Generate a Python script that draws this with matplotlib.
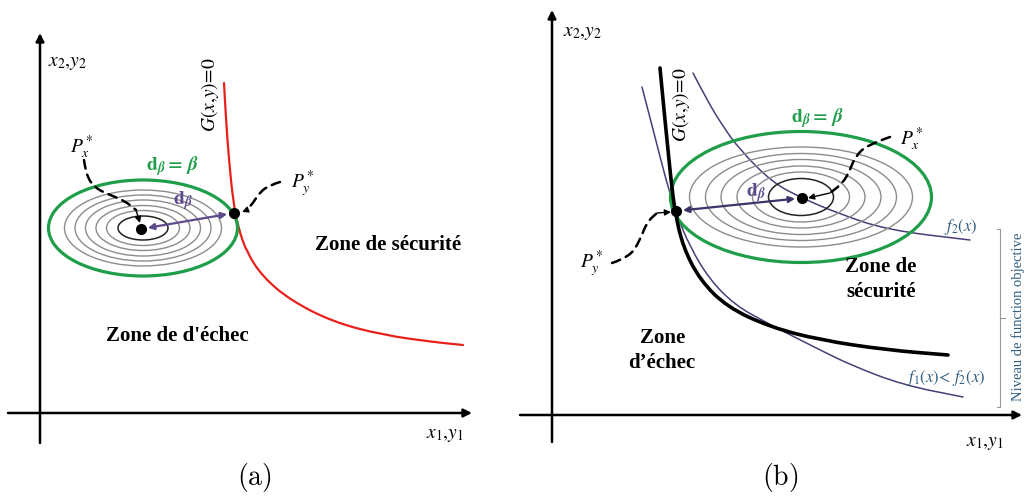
import matplotlib
matplotlib.use("Agg")
import matplotlib.pyplot as plt
from matplotlib.patches import Ellipse, PathPatch
from matplotlib.path import Path
import numpy as np

plt.rcParams['mathtext.fontset'] = 'stix'
plt.rcParams['font.family'] = ['Liberation Serif', 'DejaVu Serif']

# ---------------- data (pixel coords) ----------------
# panel (a)
a_limit_x = [224, 226, 229, 233, 238, 247, 263, 290, 333, 383, 433, 463]
a_limit_y = [83, 120, 160, 200, 227, 253, 277, 300, 322, 335, 342, 345]
a_center = (141, 229)
a_design = (234, 213)
a_beta_w, a_beta_h = 189, 96
a_ring_w = [157, 136, 115, 94, 73]
a_ring_h = [76, 66, 56, 45, 35]
a_inner_w, a_inner_h = 50, 24
a_px_x = [84, 86, 95, 110, 125, 136, 140]
a_px_y = [160, 175, 188, 195, 201, 210, 223]
a_py_x = [280, 270, 260, 253, 247, 242]
a_py_y = [182, 185, 192, 203, 210, 212]

# panel (b)
b_limit_x = [660, 664, 667, 671, 675, 683, 700, 727, 770, 820, 887, 948]
b_limit_y = [68, 110, 140, 180, 212, 247, 280, 307, 327, 340, 350, 355]
b_f1_x = [642, 654, 666, 676, 690, 710, 735, 765, 820, 853, 903, 963]
b_f1_y = [87, 133, 180, 213, 247, 280, 305, 322, 350, 366, 385, 397]
b_f2_x = [693, 707, 722, 740, 773, 802, 837, 887, 970]
b_f2_y = [73, 100, 125, 150, 183, 198, 213, 230, 240]
b_center = (802, 198)
b_design = (676, 211)
b_beta_w, b_beta_h = 261, 131
b_ring_w = [223, 191, 160, 128, 97]
b_ring_h = [100, 87, 75, 62, 50]
b_inner_w, b_inner_h = 65, 37
b_px_x = [890, 867, 855, 850, 843, 830, 808]
b_px_y = [137, 145, 157, 170, 183, 193, 198]
b_py_x = [612, 630, 640, 647, 657, 671]
b_py_y = [263, 257, 240, 222, 213, 212]

GREEN = '#1f9e4a'
RED = '#e8211d'
PURPLE = '#5d4a8c'
DPURPLE = '#3e3268'
THIN = '#4a3d78'
TEAL = '#2f5d80'

fig = plt.figure(figsize=(10.25, 4.96), dpi=100)
ax = fig.add_axes([0, 0, 1, 1])
ax.set_xlim(0, 1025)
ax.set_ylim(496, 0)
ax.axis('off')


def smooth(xs, ys, **kw):
    pts = list(zip(xs, ys))
    verts = [pts[0]]
    codes = [Path.MOVETO]
    for i in range(1, len(pts) - 1):
        mid = ((pts[i][0] + pts[i + 1][0]) / 2, (pts[i][1] + pts[i + 1][1]) / 2)
        verts += [pts[i], mid]
        codes += [Path.CURVE3, Path.CURVE3]
    verts.append(pts[-1])
    codes.append(Path.LINETO)
    ax.add_patch(PathPatch(Path(verts, codes), fill=False, capstyle='round', **kw))


def dashed(xs, ys):
    smooth(xs[:-1], ys[:-1], color='k', lw=1.8, linestyle=(0, (3.5, 2.5)))
    ax.annotate('', xy=(xs[-1], ys[-1]), xytext=(xs[-2], ys[-2]),
                arrowprops=dict(arrowstyle='-|>', color='k', lw=1.0,
                                mutation_scale=9, shrinkA=0, shrinkB=0))


def axes_arrows(x0, y0, xtop, xright, xleft, ybottom):
    ax.annotate('', xy=(x0, xtop), xytext=(x0, ybottom),
                arrowprops=dict(arrowstyle='-|>', color='k', lw=1.8,
                                mutation_scale=12, shrinkA=0, shrinkB=0))
    ax.annotate('', xy=(xright, y0), xytext=(xleft, y0),
                arrowprops=dict(arrowstyle='-|>', color='k', lw=1.8,
                                mutation_scale=12, shrinkA=0, shrinkB=0))


def rings(center, bw, bh, rw, rh, iw, ih):
    for w, h in zip(rw, rh):
        ax.add_patch(Ellipse(center, w, h, fill=False, ec='#8c8c8c', lw=1.0))
    ax.add_patch(Ellipse(center, iw, ih, fill=False, ec='#222222', lw=1.1))
    ax.add_patch(Ellipse(center, bw, bh, fill=False, ec=GREEN, lw=2.3))


BETA_LBL = r'$\mathbf{d}_{\boldsymbol{\beta}}{\mathbf{=}}\,\boldsymbol{\beta}$'
D_LBL = r'$\mathbf{d}_{\boldsymbol{\beta}}$'

# ================= panel (a) =================
axes_arrows(40, 413, 33, 472, 8, 443)
ax.text(48, 63, r'$x_2{,}y_2$', fontsize=14, ha='left', va='center')
ax.text(445, 436, r'$x_1{,}y_1$', fontsize=14, ha='center', va='center')
ax.text(254, 477, r'$\mathrm{(a)}$', fontsize=20, ha='center', va='center',
        math_fontfamily='cm')

smooth(a_limit_x, a_limit_y, color=RED, lw=1.6)
ax.text(210, 95, r'$G(x{,}y)\!=\!0$', fontsize=14, rotation=90,
        ha='center', va='center')
rings((143, 228), a_beta_w, a_beta_h, a_ring_w, a_ring_h, a_inner_w, a_inner_h)

ax.annotate('', xy=a_design, xytext=a_center,
            arrowprops=dict(arrowstyle='<|-|>', color=PURPLE, lw=1.6,
                            mutation_scale=9, shrinkA=5, shrinkB=5))
ax.plot(*a_center, 'o', color='k', ms=7)
ax.plot(*a_design, 'o', color='k', ms=7)
dashed(a_px_x, a_px_y)
dashed(a_py_x, a_py_y)
ax.text(82, 147, r'$P_x^*$', fontsize=14, ha='center', va='center')
ax.text(303, 184, r'$P_y^*$', fontsize=14, ha='center', va='center')
ax.text(183, 201, D_LBL, fontsize=14, color=PURPLE, ha='center', va='center')
ax.text(172, 166, BETA_LBL, fontsize=14, color=GREEN, ha='center', va='center')
ax.text(388, 245, 'Zone de sécurité', fontsize=15, fontweight='bold',
        ha='center', va='center')
ax.text(177, 336, "Zone de d'échec", fontsize=15, fontweight='bold',
        ha='center', va='center')

# ================= panel (b) =================
axes_arrows(552, 415, 10, 1022, 520, 442)
ax.text(563, 34, r'$x_2{,}y_2$', fontsize=14, ha='left', va='center')
ax.text(985, 444, r'$x_1{,}y_1$', fontsize=14, ha='center', va='center')
ax.text(780, 477, r'$\mathrm{(b)}$', fontsize=20, ha='center', va='center',
        math_fontfamily='cm')

smooth(b_f1_x, b_f1_y, color=THIN, lw=1.1)
smooth(b_f2_x, b_f2_y, color=THIN, lw=1.1)
rings((801, 197), b_beta_w, b_beta_h, b_ring_w, b_ring_h, b_inner_w, b_inner_h)
smooth(b_limit_x, b_limit_y, color='k', lw=2.6)
ax.text(681, 105, r'$G(x{,}y)\!=\!0$', fontsize=14, rotation=90,
        ha='center', va='center')

ax.annotate('', xy=b_design, xytext=b_center,
            arrowprops=dict(arrowstyle='<|-|>', color=DPURPLE, lw=1.6,
                            mutation_scale=9, shrinkA=5, shrinkB=5))
ax.plot(*b_center, 'o', color='k', ms=7)
ax.plot(*b_design, 'o', color='k', ms=7)
dashed(b_px_x, b_px_y)
dashed(b_py_x, b_py_y)
ax.text(912, 139, r'$P_x^*$', fontsize=14, ha='center', va='center')
ax.text(592, 264, r'$P_y^*$', fontsize=14, ha='center', va='center')
ax.text(756, 193, D_LBL, fontsize=14, color=PURPLE, ha='center', va='center')
ax.text(817, 118, BETA_LBL, fontsize=14, color=GREEN, ha='center', va='center')
ax.text(881, 267, 'Zone de', fontsize=15, fontweight='bold', ha='center', va='center')
ax.text(881, 292, 'sécurité', fontsize=15, fontweight='bold', ha='center', va='center')
ax.text(663, 338, 'Zone', fontsize=15, fontweight='bold', ha='center', va='center')
ax.text(662, 363, 'd\u2019échec', fontsize=15, fontweight='bold', ha='center', va='center')

ax.text(961, 227, r'$f_2(x)$', fontsize=12, color=TEAL, ha='center', va='center')
ax.text(946, 378, r'$f_1(x)\!<\,f_2(x)$', fontsize=12, color=TEAL, ha='center', va='center')

# bracket
ax.plot([997, 1000, 1000, 997], [229, 229, 407, 407], color='#9a9a9a', lw=0.8)
ax.plot([1000, 1005], [318, 318], color='#9a9a9a', lw=0.8)
ax.text(1018, 317, 'Niveau de function objective', fontsize=10.5, color=TEAL,
        rotation=90, ha='center', va='center')

fig.savefig('out.png', dpi=100)
